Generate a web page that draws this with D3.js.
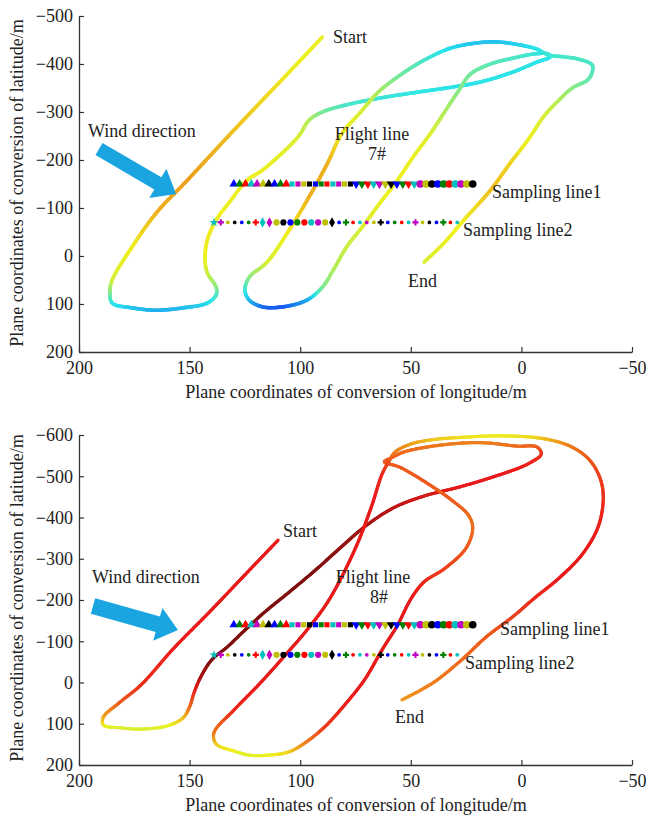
<!DOCTYPE html>
<html><head><meta charset="utf-8">
<script src="https://cdn.jsdelivr.net/npm/d3@7"></script>
<style>
body{margin:0;background:#fff}
svg{display:block}
text{font-family:"Liberation Serif","Times New Roman",serif;fill:#222}
</style>
</head><body>
<svg id="c" width="647" height="816"></svg>
<script>
// ---------------- data ----------------
const xTicks = [200, 150, 100, 50, 0, -50];
const yTicksTop = [-500, -400, -300, -200, -100, 0, 100, 200];
const yTicksBottom = [-600, -500, -400, -300, -200, -100, 0, 100, 200];

// Flight line 7# (top) : longitude-plane x, latitude-plane y, colour value
const f7X = [90,105,130,151,165,176,185,186,185,176,165,153,142,138,138,142,143,142,138,132,124,117,101,96,90,79,64,49,34,19,4,-7,-13,-12,-6,4,14,23,29,35,41,49,56,64,72,79,85,90,97,108,117,123,125,123,115,105,96,88,81,73,65,56,44,32,20,11,1,-7,-12,-19,-26,-32,-32,-30,-23,-17,-10,-3,5,14,26,35,44];
const f7Y = [-456,-383,-262,-158,-90,-19,50,74,98,108,113,108,98,81,65,35,8,-33,-75,-112,-158,-179,-248,-283,-300,-315,-329,-340,-350,-362,-383,-404,-415,-421,-421,-412,-400,-379,-340,-298,-256,-206,-158,-110,-60,-19,29,65,92,106,106,92,71,44,13,-54,-123,-190,-256,-298,-340,-373,-408,-433,-444,-446,-440,-431,-419,-415,-410,-398,-383,-367,-350,-325,-290,-242,-194,-137,-75,-27,13];
const f7C = [0.62,0.63,0.68,0.72,0.7,0.63,0.6,0.5,0.38,0.33,0.3,0.32,0.36,0.42,0.5,0.58,0.62,0.63,0.63,0.62,0.62,0.62,0.6,0.55,0.48,0.42,0.4,0.39,0.38,0.38,0.38,0.38,0.38,0.38,0.4,0.42,0.44,0.47,0.5,0.55,0.6,0.62,0.62,0.62,0.6,0.58,0.55,0.48,0.3,0.18,0.2,0.3,0.4,0.5,0.6,0.63,0.7,0.7,0.63,0.6,0.55,0.48,0.42,0.36,0.33,0.33,0.35,0.38,0.4,0.42,0.42,0.42,0.43,0.45,0.5,0.55,0.6,0.62,0.66,0.68,0.63,0.62,0.6];

// Flight line 8# (bottom)
const f8X = [110,125,141,157,172,182,189, 189,181,172,160,153,150, 148,145,140,133,125,116,105,93,82,71,58,44,28,13,-3,-9,-7, 2,16,25,40,53,59,62, 55,42,31,24,22,25,35,44,50,56,63,71,80,89,98, 105,114,123,130,138,139, 130,118,106,97,87,75,68,63,60, 57,50,41,25,10,-4,-13,-22,-30,-35, -37,-35,-28,-17,-6,4,16,27,40,54];
const f8Y = [-345,-261,-171,-84,6,50,84, 103,110,113,105,86,59, 25,-13,-55,-86,-127,-171,-219,-273,-326,-377,-423,-452,-474,-498,-530,-554,-571, -573,-581,-581,-573,-559,-544,-535, -522,-481,-440,-406,-375,-326,-275,-244,-202,-139,-79,-6,55,108,147, 168,176,176,166,149,122, 67,1,-71,-127,-200,-326,-423,-505,-535, -559,-578,-588,-595,-598,-595,-588,-573,-544,-503, -455,-382,-314,-253,-205,-159,-110,-55,1,42];
const f8C = [0.88,0.88,0.88,0.87,0.85,0.8,0.72, 0.62,0.6,0.6,0.62,0.68,0.78, 0.85,0.95,1,1,1,1,1,1,0.98,0.96,0.93,0.9,0.88,0.88,0.87,0.85,0.8, 0.78,0.76,0.76,0.77,0.78,0.8,0.8, 0.8,0.8,0.8,0.78,0.78,0.8,0.83,0.86,0.88,0.88,0.88,0.88,0.87,0.84,0.76, 0.66,0.62,0.61,0.62,0.66,0.76, 0.86,0.88,0.88,0.88,0.88,0.88,0.88,0.86,0.82, 0.76,0.72,0.68,0.64,0.63,0.65,0.7,0.76,0.8,0.83, 0.85,0.87,0.88,0.88,0.86,0.83,0.8,0.78,0.76,0.73];

// Sampling lines (marker x positions)
const samp1X = [130,127.4,124.7,122.1,119.5,116.8,114.2,111.6,108.9,106.3,103.7,101,98.4,95.8,93.1,90.5,87.9,85.2,82.6,80,77.3,74.7,72.1,69.4,66.8,64.2,61.5,58.9,56.3,53.6,51,48.4,45.7,43.1,40.5,37.8,35.2,32.6,29.9,27.3,24.7,22];
const samp2X = [139,135.9,132.7,129.6,126.4,123.3,120.1,117,113.9,110.7,107.6,104.4,101.3,98.1,95,91.9,88.7,85.6,82.4,79.3,76.1,73,69.9,66.7,63.6,60.4,57.3,54.1,51,47.9,44.7,41.6,38.4,35.3,32.1,29];
const samp1Y = [-150, -140];   // top panel, bottom panel
const samp2Y = [-70, -67];

// ---------------- drawing ----------------
const svg = d3.select("#c");
const jet = d3.scaleLinear()
  .domain([0, 0.125, 0.375, 0.625, 0.875, 1])
  .range(["#10108f", "#1030f0", "#28e4ec", "#eef020", "#ec1c1c", "#801010"])
  .clamp(true);
const mColors = ["#0000ff", "#008000", "#ff0000", "#00bfbf", "#bf00bf", "#bfbf00", "#000000"];

function drawTrack(g, xs, ys, cs, sx, sy, w) {
  const P = xs.map((v, i) => [sx(v), sy(ys[i])]);
  const tmp = g.append("path")
    .attr("d", d3.line().curve(d3.curveCatmullRom.alpha(0.5))(P))
    .attr("fill", "none").attr("stroke", "none");
  const node = tmp.node();
  const L = node.getTotalLength();
  const N = Math.ceil(L / 1.5);
  const S = d3.range(N + 1).map(k => { const p = node.getPointAtLength(L * k / N); return [p.x, p.y]; });
  tmp.remove();
  const vk = [];
  let start = 0;
  P.forEach((p, i) => {
    if (i === 0) { vk.push(0); return; }
    if (i === P.length - 1) { vk.push(N); return; }
    let found = -1;
    for (let k = start + 1; k <= N; k++) {
      const d = Math.hypot(S[k][0] - p[0], S[k][1] - p[1]);
      if (d < 1.6) {
        found = k;
        while (found + 1 <= N && Math.hypot(S[found + 1][0] - p[0], S[found + 1][1] - p[1]) < d) { found++; }
        break;
      }
    }
    if (found < 0) found = Math.min(N, start + 1);
    vk.push(found); start = found;
  });
  const cAt = new Array(N + 1);
  for (let i = 0; i < vk.length - 1; i++) {
    const a = vk[i], b = vk[i + 1];
    for (let k = a; k <= b; k++) {
      const t = b > a ? (k - a) / (b - a) : 0;
      cAt[k] = cs[i] + (cs[i + 1] - cs[i]) * t;
    }
  }
  const segs = d3.range(N).map(k => ({ a: S[k], b: S[k + 1], c: cAt[k] == null ? cs[cs.length - 1] : cAt[k] }));
  g.append("g").selectAll("line").data(segs).join("line")
    .attr("x1", d => d.a[0]).attr("y1", d => d.a[1])
    .attr("x2", d => d.b[0]).attr("y2", d => d.b[1])
    .attr("stroke", d => jet(d.c))
    .attr("stroke-width", w).attr("stroke-linecap", "round");
}

function drawArrow(g, tail, tip, sw, hw, hl) {
  const dx = tip[0] - tail[0], dy = tip[1] - tail[1], L = Math.hypot(dx, dy);
  const ux = dx / L, uy = dy / L, nx = -uy, ny = ux;
  const bx = tip[0] - ux * hl, by = tip[1] - uy * hl;
  const pts = [
    [tail[0] + nx * sw / 2, tail[1] + ny * sw / 2],
    [bx + nx * sw / 2, by + ny * sw / 2],
    [bx + nx * hw / 2, by + ny * hw / 2],
    tip,
    [bx - nx * hw / 2, by - ny * hw / 2],
    [bx - nx * sw / 2, by - ny * sw / 2],
    [tail[0] - nx * sw / 2, tail[1] - ny * sw / 2]
  ];
  g.append("polygon").attr("points", pts.map(p => p.join(",")).join(" ")).attr("fill", "#1ba5e0");
}

function sym1(i) {
  if (i < 10) return { t: d3.symbolTriangle, s: 34, r: 0 };
  if (i < 21) return { t: d3.symbolSquare, s: 26, r: 0 };
  if (i < 32) return { t: d3.symbolTriangle, s: 34, r: 180 };
  return { t: d3.symbolCircle, s: 46, r: 0 };
}
function sym2(i) {
  if (i === 0) return { t: d3.symbolStar, s: 26 };
  if ([1, 6, 19, 24, 29, 33].includes(i)) return { t: d3.symbolCross, s: 22 };
  if ([7, 8, 17].includes(i)) return { t: d3.symbolDiamond, s: 30 };
  if (i >= 9 && i <= 16) return { t: d3.symbolCircle, s: 30 };
  return { t: d3.symbolCircle, s: 11 };
}

const x = d3.scaleLinear().domain([200, -50]).range([79, 632]);

const panels = [
  { yDomain: [-500, 200], yRange: [16, 352], yTicks: yTicksTop, X: f7X, Y: f7Y, C: f7C, w: 3.6, idx: 0,
    arrow: [[99, 149], [176, 194], 14, 34, 21],
    labels: [
      ["Wind direction", 88, 137, "start"], ["Start", 333, 43, "start"],
      ["Flight line", 372, 140, "middle"], ["7#", 377, 160, "middle"],
      ["End", 408, 287, "start"], ["Sampling line1", 492, 198, "start"],
      ["Sampling line2", 463, 236, "start"]
    ],
    xTitleY: 398, yTitleC: 183 },
  { yDomain: [-600, 200], yRange: [435, 765], yTicks: yTicksBottom, X: f8X, Y: f8Y, C: f8C, w: 3.2, idx: 1,
    arrow: [[93, 606], [178, 630], 16, 34, 21],
    labels: [
      ["Wind direction", 92, 583, "start"], ["Start", 283, 537, "start"],
      ["Flight line", 373, 583, "middle"], ["8#", 379, 603, "middle"],
      ["End", 395, 723, "start"], ["Sampling line1", 500, 635, "start"],
      ["Sampling line2", 465, 669, "start"]
    ],
    xTitleY: 811, yTitleC: 598 }
];

panels.forEach(p => {
  const y = d3.scaleLinear().domain(p.yDomain).range(p.yRange);
  const g = svg.append("g");

  drawTrack(g, p.X, p.Y, p.C, x, y, p.w);

  // sampling line 1
  g.append("g").selectAll("path").data(samp1X).join("path")
    .attr("transform", (d, i) => `translate(${x(d)},${y(samp1Y[p.idx])}) rotate(${sym1(i).r})`)
    .attr("d", (d, i) => d3.symbol().type(sym1(i).t).size(sym1(i).s)())
    .attr("fill", (d, i) => mColors[i % 7]);
  // sampling line 2
  g.append("g").selectAll("path").data(samp2X).join("path")
    .attr("transform", d => `translate(${x(d)},${y(samp2Y[p.idx])})`)
    .attr("d", (d, i) => d3.symbol().type(sym2(i).t).size(sym2(i).s)())
    .attr("fill", (d, i) => mColors[(i + 3) % 7]);

  drawArrow(g, ...p.arrow);

  p.labels.forEach(l => {
    g.append("text").attr("x", l[1]).attr("y", l[2]).attr("text-anchor", l[3])
      .attr("font-size", 18).text(l[0]);
  });

  // axes
  const ax = g.append("g").attr("transform", `translate(0,${p.yRange[1]})`)
    .call(d3.axisBottom(x).tickValues(xTicks).tickSize(-5).tickSizeOuter(0).tickPadding(9));
  const ay = g.append("g").attr("transform", `translate(${x.range()[0]},0)`)
    .call(d3.axisLeft(y).tickValues(p.yTicks).tickSize(-5).tickSizeOuter(0).tickPadding(6));
  [ax, ay].forEach(a => {
    a.selectAll("text").attr("font-size", 18).attr("font-family", '"Liberation Serif","Times New Roman",serif').attr("fill", "#222");
    a.selectAll("line").attr("stroke", "#333").attr("stroke-width", 1.2);
    a.select(".domain").attr("stroke", "#333").attr("stroke-width", 1.3);
  });

  g.append("text").attr("x", 356).attr("y", p.xTitleY).attr("text-anchor", "middle")
    .attr("font-size", 18).text("Plane coordinates of conversion of longitude/m");
  g.append("text").attr("transform", `translate(17,${p.yTitleC}) rotate(-90)`)
    .attr("text-anchor", "middle").attr("dominant-baseline", "central")
    .attr("font-size", 18).text("Plane coordinates of conversion of latitude/m");
});
</script>
</body></html>
